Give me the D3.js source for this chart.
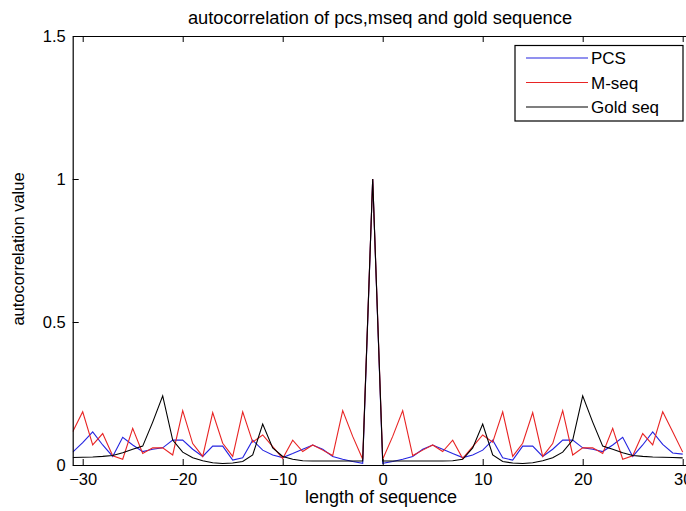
<!DOCTYPE html>
<html><head><meta charset="utf-8">
<script src="https://cdn.jsdelivr.net/npm/d3@7"></script>
<style>
html,body{margin:0;padding:0;background:#fff;}
svg{display:block;}
text{font-family:"Liberation Sans",Arial,Helvetica,sans-serif;fill:#000;}
</style></head>
<body>
<svg id="chart" width="686" height="511"></svg>
<script>
// ---- data ----
const lags = [-31,-30,-29,-28,-27,-26,-25,-24,-23,-22,-21,-20,-19,-18,-17,-16,-15,-14,-13,-12,-11,-10,-9,-8,-7,-6,-5,-4,-3,-2,-1,0,1,2,3,4,5,6,7,8,9,10,11,12,13,14,15,16,17,18,19,20,21,22,23,24,25,26,27,28,29,30];

const pcs = [0.045,0.078,0.116,0.07,0.03,0.097,0.07,0.047,0.055,0.06,0.087,0.087,0.055,0.03,0.066,0.066,0.017,0.025,0.087,0.052,0.035,0.026,0.04,0.055,0.07,0.055,0.03,0.02,0.012,0.006,1.0,0.006,0.012,0.02,0.03,0.055,0.07,0.055,0.04,0.026,0.035,0.052,0.087,0.025,0.017,0.066,0.066,0.03,0.055,0.087,0.087,0.06,0.055,0.047,0.07,0.097,0.03,0.07,0.116,0.072,0.042,0.038];

const mseq = [0.116,0.186,0.07,0.11,0.032,0.02,0.128,0.04,0.06,0.06,0.035,0.19,0.075,0.03,0.183,0.076,0.03,0.186,0.08,0.105,0.064,0.023,0.087,0.047,0.07,0.052,0.033,0.19,0.1,0.02,1.0,0.02,0.1,0.19,0.033,0.052,0.07,0.047,0.087,0.023,0.064,0.105,0.08,0.186,0.03,0.076,0.183,0.03,0.075,0.19,0.035,0.06,0.06,0.04,0.128,0.02,0.032,0.11,0.07,0.186,0.116,0.045];

const gold = [0.026,0.027,0.028,0.03,0.033,0.043,0.055,0.066,0.15,0.242,0.087,0.045,0.025,0.015,0.008,0.005,0.007,0.012,0.035,0.143,0.06,0.03,0.02,0.015,0.014,0.014,0.014,0.014,0.014,0.014,1.0,0.014,0.014,0.014,0.014,0.014,0.014,0.014,0.015,0.02,0.06,0.143,0.035,0.012,0.007,0.005,0.008,0.015,0.025,0.045,0.087,0.242,0.15,0.066,0.055,0.043,0.033,0.03,0.028,0.027,0.026,0.025];

const seriesNames = ["PCS","M-seq","Gold seq"];
const seriesColors = ["#2424e0","#e82424","#000000"];
const xTicks = [-30,-20,-10,0,10,20,30];
const yTicks = [0,0.5,1,1.5];
const yTickLabels = ["0","0.5","1","1.5"];
const titleText = "autocorrelation of pcs,mseq and gold sequence";
const xLabelText = "length of sequence";
const yLabelText = "autocorrelation value";

// ---- layout ----
const svg = d3.select("#chart");
const L = 72.7, R = 692.7, T = 36, B = 465;
const x = d3.scaleLinear().domain([-31,31]).range([L,R]);
const y = d3.scaleLinear().domain([0,1.5]).range([B,T]);

svg.append("defs").append("clipPath").attr("id","clip")
  .append("rect").attr("x",L).attr("y",T).attr("width",R-L).attr("height",B-T);

const series = [pcs, mseq, gold];
const line = d3.line().x((d,i)=>x(lags[i])).y(d=>y(d));
const g = svg.append("g").attr("clip-path","url(#clip)");
series.forEach((s,k)=>{
  g.append("path").datum(s).attr("d",line)
    .attr("fill","none").attr("stroke",seriesColors[k]).attr("stroke-width",1.1)
    .attr("stroke-linejoin","miter");
});

// axes (MATLAB style box with inward ticks)
const tickLen = 6;
const axB = svg.append("g").attr("transform",`translate(0,${B})`)
  .call(d3.axisBottom(x).tickValues(xTicks).tickSizeInner(-tickLen).tickSizeOuter(0).tickPadding(9).tickFormat(d3.format("d")));
const axT = svg.append("g").attr("transform",`translate(0,${T})`)
  .call(d3.axisTop(x).tickValues(xTicks).tickSizeInner(-tickLen).tickSizeOuter(0).tickFormat(""));
const axL = svg.append("g").attr("transform",`translate(${L},0)`)
  .call(d3.axisLeft(y).tickValues(yTicks).tickSizeInner(-tickLen).tickSizeOuter(0).tickPadding(7).tickFormat((d,i)=>yTickLabels[i]));
const axR = svg.append("g").attr("transform",`translate(${R},0)`)
  .call(d3.axisRight(y).tickValues(yTicks).tickSizeInner(-tickLen).tickSizeOuter(0).tickFormat(""));
[axB,axT,axL,axR].forEach(a=>{
  a.select(".domain").attr("stroke","#000").attr("stroke-width",1.2);
  a.selectAll(".tick line").attr("stroke","#000").attr("stroke-width",1);
  a.selectAll("text").style("font-family",'"Liberation Sans",Arial,sans-serif').style("font-size","16.5px").attr("fill","#000");
});
axB.selectAll("text").attr("dy","0.71em").attr("y",8);

// title & labels
svg.append("text").attr("x",380).attr("y",24).attr("text-anchor","middle")
  .style("font-size","18.3px").text(titleText);
svg.append("text").attr("x",381).attr("y",503).attr("text-anchor","middle")
  .style("font-size","18px").text(xLabelText);
svg.append("text").attr("transform","translate(24,249) rotate(-90)").attr("text-anchor","middle")
  .style("font-size","16.5px").text(yLabelText);

// legend
const lg = svg.append("g");
lg.append("rect").attr("x",515).attr("y",45.5).attr("width",168).attr("height",75.5)
  .attr("fill","#fff").attr("stroke","#000").attr("stroke-width",1.2);
seriesNames.forEach((n,k)=>{
  const yy = 58 + k*24.5;
  lg.append("line").attr("x1",526).attr("x2",588).attr("y1",yy).attr("y2",yy)
    .attr("stroke",seriesColors[k]).attr("stroke-width",1.1);
  lg.append("text").attr("x",591).attr("y",yy+6).style("font-size","17px").text(n);
});
</script>
</body></html>
